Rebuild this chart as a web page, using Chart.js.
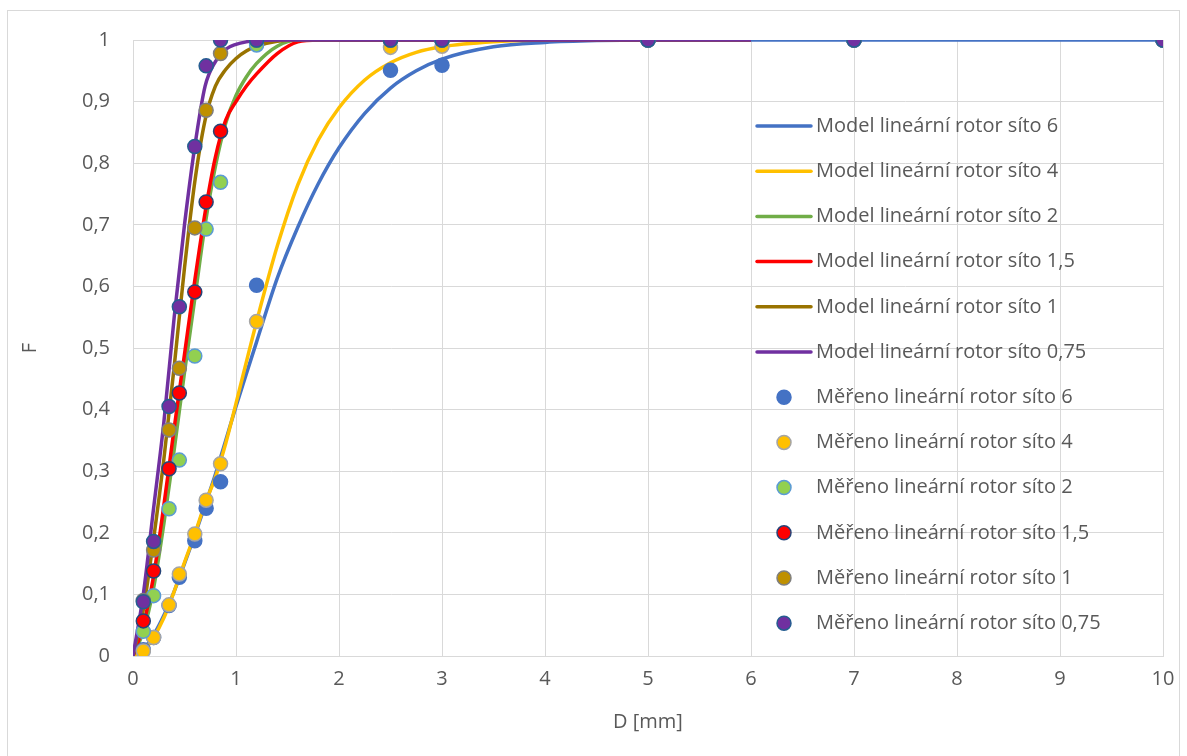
<!DOCTYPE html>
<html>
<head>
<meta charset="utf-8">
<script src="https://cdn.jsdelivr.net/npm/chart.js@4.4.0/dist/chart.umd.min.js"></script>
<style>
  html, body { margin: 0; padding: 0; background: #fff; }
  #wrap { position: relative; width: 1187px; height: 756px; overflow: hidden; }
  #frame { position: absolute; left: 7px; top: 10px; width: 1173px; height: 780px; border: 1px solid #d9d9d9; box-sizing: border-box; }
  #myChart { position: absolute; left: 0; top: 0; }
</style>
</head>
<body>
<div id="wrap">
  <div id="frame"></div>
  <canvas id="myChart" width="1187" height="756"></canvas>
</div>
<script>
// sieve sizes of the measured points [mm]
const measuredD = [0.1, 0.2, 0.35, 0.45, 0.6, 0.71, 0.85, 1.2, 2.5, 3, 5, 7, 10];

// measured F values, one array per rotor sieve
const measured6   = [0.01, 0.03, 0.082, 0.128, 0.187, 0.24, 0.283, 0.602, 0.951, 0.959, 1, 1, 1];
const measured4   = [0.008, 0.03, 0.083, 0.133, 0.198, 0.253, 0.312, 0.543, 0.988, 0.99, 1, 1, 1];
const measured2   = [0.04, 0.098, 0.239, 0.318, 0.487, 0.693, 0.769, 0.992, 1, 1, 1, 1, 1];
const measured15  = [0.057, 0.138, 0.304, 0.427, 0.591, 0.737, 0.852, 1, 1, 1, 1, 1, 1];
const measured1   = [0.09, 0.172, 0.367, 0.467, 0.695, 0.886, 0.978, 1, 1, 1, 1, 1, 1];
const measured075 = [0.088, 0.186, 0.405, 0.567, 0.827, 0.958, 1, 1, 1, 1, 1, 1, 1];

// model curve sample points [mm]
const modelD = [0, 0.1, 0.2, 0.3, 0.4, 0.5, 0.6, 0.7, 0.8, 0.9, 1.0, 1.1, 1.2, 1.4, 1.6, 1.8, 2.0, 2.25, 2.5, 2.75, 3.0, 3.5, 4.0, 4.5, 5.0, 6.0];
const modelD6 = modelD.concat([10]);

const model6   = [0, 0.011, 0.034, 0.066, 0.105, 0.15, 0.196, 0.245, 0.295, 0.35, 0.405, 0.458, 0.51, 0.613, 0.696, 0.767, 0.825, 0.881, 0.922, 0.95, 0.969, 0.989, 0.996, 0.999, 1, 1, 1];
const model4   = [0, 0.009, 0.03, 0.062, 0.105, 0.152, 0.198, 0.248, 0.29, 0.345, 0.41, 0.477, 0.543, 0.665, 0.765, 0.838, 0.89, 0.935, 0.963, 0.98, 0.989, 0.997, 1, 1, 1, 1];
const model2   = [0, 0.04, 0.11, 0.215, 0.335, 0.46, 0.58, 0.7, 0.795, 0.865, 0.91, 0.94, 0.962, 0.99, 1, 1, 1, 1, 1, 1, 1, 1, 1, 1, 1, 1];
const model15  = [0, 0.05, 0.13, 0.245, 0.37, 0.49, 0.61, 0.72, 0.81, 0.87, 0.9, 0.925, 0.945, 0.978, 0.997, 1, 1, 1, 1, 1, 1, 1, 1, 1, 1, 1];
const model1   = [0, 0.075, 0.19, 0.32, 0.47, 0.63, 0.77, 0.87, 0.925, 0.952, 0.97, 0.982, 0.99, 0.998, 1, 1, 1, 1, 1, 1, 1, 1, 1, 1, 1, 1];
const model075 = [0, 0.1, 0.24, 0.38, 0.55, 0.7, 0.827, 0.925, 0.965, 0.985, 0.993, 0.997, 0.999, 1, 1, 1, 1, 1, 1, 1, 1, 1, 1, 1, 1, 1];

const xTicks = [0, 1, 2, 3, 4, 5, 6, 7, 8, 9, 10];
const yTicks = [0, 0.1, 0.2, 0.3, 0.4, 0.5, 0.6, 0.7, 0.8, 0.9, 1];

const textColor = '#595959';
const gridColor = '#d9d9d9';
const fontFamily = "'Open Sans', 'Noto Sans', sans-serif";
const fontSize = 20;

function toPoints(xs, ys) {
  return ys.map((y, i) => ({ x: xs[i], y: y }));
}

function modelSet(label, xs, ys, color) {
  return {
    label: label,
    data: toPoints(xs, ys),
    showLine: true,
    borderColor: color,
    backgroundColor: color,
    borderWidth: 3.5,
    pointRadius: 0,
    cubicInterpolationMode: 'monotone',
    kind: 'line'
  };
}

function measuredSet(label, ys, fill, edge) {
  return {
    label: label,
    data: toPoints(measuredD, ys),
    showLine: false,
    backgroundColor: fill,
    borderColor: edge,
    pointRadius: 7,
    pointBorderWidth: 1.5,
    pointHoverRadius: 7,
    kind: 'point'
  };
}

const datasets = [
  modelSet('Model lineární rotor síto 6', modelD6, model6, '#4472C4'),
  modelSet('Model lineární rotor síto 4', modelD, model4, '#FFC000'),
  modelSet('Model lineární rotor síto 2', modelD, model2, '#70AD47'),
  modelSet('Model lineární rotor síto 1,5', modelD, model15, '#FF0000'),
  modelSet('Model lineární rotor síto 1', modelD, model1, '#997300'),
  modelSet('Model lineární rotor síto 0,75', modelD, model075, '#7030A0'),
  measuredSet('Měřeno lineární rotor síto 6', measured6, '#4472C4', '#4472C4'),
  measuredSet('Měřeno lineární rotor síto 4', measured4, '#FFC000', '#A5A5A5'),
  measuredSet('Měřeno lineární rotor síto 2', measured2, '#92D050', '#5B9BD5'),
  measuredSet('Měřeno lineární rotor síto 1,5', measured15, '#FF0000', '#264478'),
  measuredSet('Měřeno lineární rotor síto 1', measured1, '#BF9000', '#7F7F7F'),
  measuredSet('Měřeno lineární rotor síto 0,75', measured075, '#7030A0', '#255E91')
];
// later series are painted on top, as in the original
datasets.forEach((d, i) => { d.order = datasets.length - i; });

// legend drawn inside the plot, right side
const insideLegend = {
  id: 'insideLegend',
  afterDatasetsDraw(chart) {
    const ctx = chart.ctx;
    const x0 = 757, top = 126, step = 45.2;
    ctx.save();
    ctx.font = fontSize + 'px ' + fontFamily;
    ctx.textBaseline = 'middle';
    chart.data.datasets.forEach((d, i) => {
      const y = top + i * step;
      if (d.kind === 'line') {
        ctx.strokeStyle = d.borderColor;
        ctx.lineWidth = 3.5;
        ctx.lineCap = 'round';
        ctx.beginPath();
        ctx.moveTo(x0, y);
        ctx.lineTo(x0 + 54, y);
        ctx.stroke();
      } else {
        ctx.beginPath();
        ctx.arc(x0 + 27, y, 7, 0, Math.PI * 2);
        ctx.fillStyle = d.backgroundColor;
        ctx.fill();
        ctx.lineWidth = 1.5;
        ctx.strokeStyle = d.borderColor;
        ctx.stroke();
      }
      ctx.fillStyle = textColor;
      ctx.fillText(d.label, 816, y);
    });
    ctx.restore();
  }
};

const ctx = document.getElementById('myChart').getContext('2d');
const myChart = new Chart(ctx, {
  type: 'scatter',
  data: { datasets: datasets },
  plugins: [insideLegend],
  options: {
    responsive: false,
    animation: false,
    events: [],
    layout: { padding: { left: 0, right: 24, top: 40, bottom: 0 } },
    plugins: {
      legend: { display: false },
      tooltip: { enabled: false }
    },
    scales: {
      x: {
        type: 'linear',
        min: 0,
        max: 10,
        afterFit: (scale) => { scale.height = 100; },
        afterBuildTicks: (scale) => { scale.ticks = xTicks.map(v => ({ value: v })); },
        grid: { color: gridColor, lineWidth: 1, drawTicks: false },
        border: { color: gridColor, width: 1 },
        ticks: {
          color: textColor,
          font: { family: fontFamily, size: fontSize },
          padding: 11,
          maxRotation: 0,
          callback: (v) => String(v)
        },
        title: {
          display: true,
          text: 'D [mm]',
          color: textColor,
          font: { family: fontFamily, size: fontSize },
          padding: { top: 0, bottom: 22 }
        }
      },
      y: {
        type: 'linear',
        min: 0,
        max: 1,
        afterFit: (scale) => { scale.width = 133; },
        afterBuildTicks: (scale) => { scale.ticks = yTicks.map(v => ({ value: v })); },
        grid: { color: gridColor, lineWidth: 1, drawTicks: false },
        border: { color: gridColor, width: 1 },
        ticks: {
          color: textColor,
          font: { family: fontFamily, size: fontSize },
          padding: 23,
          callback: (v) => String(Math.round(v * 10) / 10).replace('.', ',')
        },
        title: {
          display: true,
          text: 'F',
          color: textColor,
          font: { family: fontFamily, size: fontSize },
          padding: { top: 18, bottom: 0 }
        }
      }
    }
  }
});
</script>
</body>
</html>
